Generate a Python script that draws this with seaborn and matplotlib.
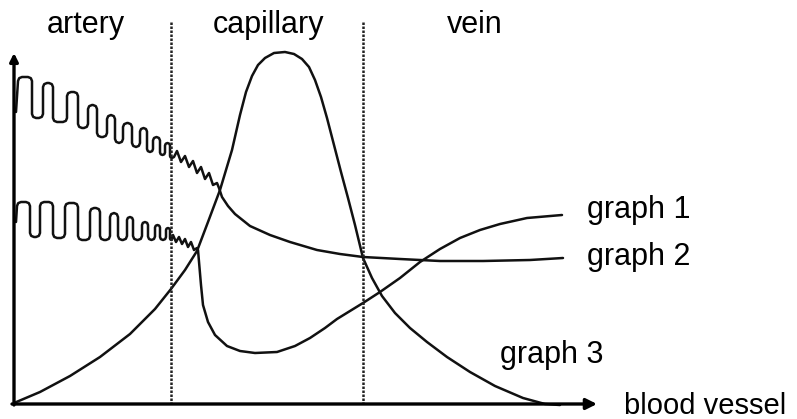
import numpy as np
import pandas as pd
import matplotlib.pyplot as plt
import seaborn as sns

sns.set_style('white')
plt.rcParams['font.family'] = ['Liberation Sans', 'DejaVu Sans']

# data, in pixel units (x to the right, y downwards)
# graph 3: the big bump through the capillary
g3_x = [14, 40, 70, 100, 130, 155, 171, 185, 197, 208, 220, 232, 240, 246, 252, 258, 265,
        274, 285, 294, 302, 309, 315, 321, 327, 334, 341, 348, 355, 363, 372, 382, 395,
        410, 427, 447, 470, 495, 523, 545, 560]
g3_y = [403, 392, 376, 357, 334, 309, 289, 270, 251, 222, 190, 150, 115, 92, 76, 65, 58,
        53, 52, 54, 59, 67, 80, 97, 118, 145, 172, 198, 225, 258, 278, 296, 313,
        328, 342, 357, 372, 386, 398, 404, 405]

# graph 2: upper pulsing curve (artery), then smooth tail
g2_start = (16, 112)
g2_top_x0 = [18, 43, 67, 88, 107, 123, 140, 153, 165]
g2_top_x1 = [32, 53, 78, 97, 115, 132, 147, 160, 170]
g2_top_y = [77, 83, 92, 105, 115, 123, 128, 137, 143]
g2_bot_y = [118, 122, 128, 137, 143, 147, 152, 155, 158]
g2_wig_x = [174, 177, 181, 185, 189, 193, 197, 201, 205, 209, 213, 217]
g2_wig_y = [157, 151, 162, 156, 167, 161, 173, 167, 179, 173, 185, 183]
g2_tail_x = [219, 222, 228, 235, 250, 270, 290, 317, 340, 363, 400, 440, 483, 530, 563]
g2_tail_y = [188, 197, 206, 214, 226, 235, 242, 250, 254, 257, 259, 261, 261, 260, 258]

# graph 1: lower pulsing curve, sharp drop, then rising in the vein
g1_start = (16, 222)
g1_top_x0 = [17, 40, 65, 90, 110, 127, 142, 155, 166]
g1_top_x1 = [30, 53, 78, 100, 118, 133, 148, 160, 170]
g1_top_y = [202, 202, 203, 208, 213, 217, 222, 225, 228]
g1_bot_y = [237, 238, 240, 240, 240, 240, 240, 240, 240]
g1_wig_x = [173, 176, 179, 182, 185, 188, 191, 194, 197]
g1_wig_y = [235, 242, 237, 244, 239, 247, 242, 250, 248]
g1_tail_x = [198, 199, 201, 203, 208, 215, 227, 240, 255, 277, 295, 310, 325, 337, 350,
             363, 380, 400, 420, 440, 460, 480, 500, 527, 562]
g1_tail_y = [250, 262, 285, 305, 322, 335, 346, 351, 353, 352, 346, 338, 328, 319, 311,
             303, 292, 278, 262, 249, 238, 230, 224, 218, 215]

region_names = ['artery', 'capillary', 'vein']
region_x = [47, 213, 447]
boundary_x = [171, 363]
curve_names = ['graph 1', 'graph 2', 'graph 3']
curve_label_xy = [(587, 218), (587, 265), (500, 363)]


def pulses(start, x0s, x1s, tops, bots, nxt):
    # square-ish pulses with rounded corners
    xs, ys = [start[0]], [start[1]]
    cur = start[1]
    prev = start[0]
    for i in range(len(x0s)):
        a, b, t, lo = x0s[i], x1s[i], tops[i], bots[i]
        rt = min(4.0, (b - a) / 2)
        rb = min(4.0, (a - prev) / 2) if i > 0 else 0
        if rb > 0:
            xs += [a - rb, a - 0.29 * rb, a]
            ys += [cur, cur - 0.29 * rb, cur - rb]
        xs += [a, a + 0.29 * rt, a + rt, b - rt, b - 0.29 * rt, b]
        ys += [t + rt, t + 0.29 * rt, t, t, t + 0.29 * rt, t + rt]
        n = x0s[i + 1] if i + 1 < len(x0s) else nxt
        r2 = min(4.0, (n - b) / 2)
        xs += [b, b + 0.29 * r2, b + r2]
        ys += [lo - r2, lo - 0.29 * r2, lo]
        prev, cur = b, lo
    return xs, ys


fig = plt.figure(figsize=(7.97, 4.19), dpi=100)
ax = fig.add_axes([0, 0, 1, 1])

curves = {}
x, y = pulses(g2_start, g2_top_x0, g2_top_x1, g2_top_y, g2_bot_y, g2_wig_x[0])
curves['graph 2'] = (x + g2_wig_x + g2_tail_x, y + g2_wig_y + g2_tail_y)
x, y = pulses(g1_start, g1_top_x0, g1_top_x1, g1_top_y, g1_bot_y, g1_wig_x[0])
curves['graph 1'] = (x + g1_wig_x + g1_tail_x, y + g1_wig_y + g1_tail_y)
curves['graph 3'] = (g3_x, g3_y)

for name, (cx, cy) in curves.items():
    df = pd.DataFrame({'x': cx, 'y': cy})
    sns.lineplot(data=df, x='x', y='y', sort=False, estimator=None, color='#111111',
                 lw=1.8, ax=ax, solid_joinstyle='round')

# dotted boundaries
for bx in boundary_x:
    ax.plot([bx, bx], [22, 403], color='#222222', lw=1.8, linestyle=(0, (1, 0.6)))

# axes with arrows
ax.annotate('', xy=(597, 404), xytext=(12, 404),
            arrowprops=dict(arrowstyle='-|>', lw=2.4, color='k', mutation_scale=16,
                            shrinkA=0, shrinkB=0))
ax.annotate('', xy=(14, 53), xytext=(14, 405),
            arrowprops=dict(arrowstyle='-|>', lw=2.4, color='k', mutation_scale=12,
                            shrinkA=0, shrinkB=0))

for nm, rx in zip(region_names, region_x):
    ax.text(rx, 33, nm, fontsize=22, ha='left', va='baseline', color='k')
for nm, (lx, ly) in zip(curve_names, curve_label_xy):
    ax.text(lx, ly, nm, fontsize=22, ha='left', va='baseline', color='k')
ax.text(624, 414, 'blood vessel', fontsize=21, ha='left', va='baseline', color='k')

ax.set_xlim(0, 797)
ax.set_ylim(419, 0)
ax.axis('off')
fig.savefig('out.png', dpi=100)
